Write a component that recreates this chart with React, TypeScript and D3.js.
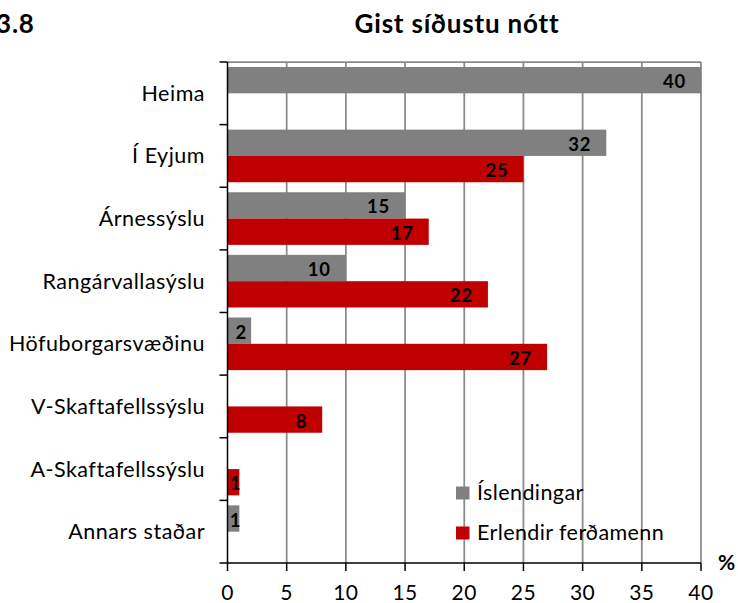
import React from "react";
import * as d3 from "d3";

// Chart data
const categories = [
  "Heima",
  "Í Eyjum",
  "Árnessýslu",
  "Rangárvallasýslu",
  "Höfuborgarsvæðinu",
  "V-Skaftafellssýslu",
  "A-Skaftafellssýslu",
  "Annars staðar",
];
const seriesNames = ["Íslendingar", "Erlendir ferðamenn"];
const islendingar = [40, 32, 15, 10, 2, 0, 0, 1];
const erlendir = [0, 25, 17, 22, 27, 8, 1, 0];
const xTicks = [0, 5, 10, 15, 20, 25, 30, 35, 40];

const colors = ["#808080", "#C00000"];
const font = "Lato, 'Noto Sans', sans-serif";

const App = () => {
  const width = 738;
  const height = 603;
  const margin = { top: 62, right: 37, bottom: 40, left: 227.5 };

  const x = d3.scaleLinear()
    .domain([0, 40])
    .range([margin.left, width - margin.right]);

  const y = d3.scaleBand()
    .domain(categories)
    .range([margin.top, height - margin.bottom])
    .paddingInner(0)
    .paddingOuter(0);

  const inner = d3.scaleBand()
    .domain(seriesNames)
    .range([0, y.bandwidth()])
    .paddingInner(0)
    .paddingOuter(0.19);

  const series = [islendingar, erlendir];
  const bottom = height - margin.bottom;
  const boundaries = categories.map(c => y(c)!).concat([bottom]);

  return (
    <div style={{ position: "absolute", left: 0, top: 0 }}>
      <svg width={width} height={height} style={{ display: "block", background: "#fff" }}>
        {/* titles */}
        <text x={-4} y={33} fontFamily={font} fontWeight="bold" fontSize={26} letterSpacing={0.8}>3.8</text>
        <text x={457} y={33} textAnchor="middle" fontFamily={font} fontWeight="bold" fontSize={26} letterSpacing={0.8}>
          Gist síðustu nótt
        </text>

        {/* gridlines */}
        <line x1={margin.left} x2={x(40)} y1={margin.top} y2={margin.top} stroke="#8a8a8a" strokeWidth={1.75} />
        {xTicks.filter(t => t > 0).map(t => (
          <line key={t} x1={x(t)} x2={x(t)} y1={margin.top} y2={bottom} stroke="#8a8a8a" strokeWidth={1.75} />
        ))}

        {/* bars */}
        {categories.map((c, i) => (
          <g key={c}>
            {series.map((s, j) => {
              const v = s[i];
              if (!v) return null;
              const by = y(c)! + inner(seriesNames[j])!;
              const bw = x(v) - x(0);
              const small = bw < 40;
              return (
                <g key={j}>
                  <rect x={x(0)} y={by} width={bw} height={inner.bandwidth()} fill={colors[j]} />
                  <text
                    x={small ? x(0) + bw / 2 + 2 : x(v) - 15}
                    y={by + inner.bandwidth() / 2 + 8}
                    textAnchor={small ? "middle" : "end"}
                    fontFamily={font}
                    fontWeight="bold"
                    fontSize={18.5}
                    letterSpacing={0.8}
                    fill="#000"
                  >
                    {v}
                  </text>
                </g>
              );
            })}
          </g>
        ))}

        {/* y axis */}
        <line x1={margin.left} x2={margin.left} y1={margin.top} y2={bottom} stroke="#000" strokeWidth={1.5} />
        {boundaries.map((b, i) => (
          <line key={i} x1={margin.left - 8} x2={margin.left} y1={b} y2={b} stroke="#000" strokeWidth={1.5} />
        ))}
        {categories.map(c => (
          <text
            key={c}
            x={205}
            y={y(c)! + y.bandwidth() / 2 + 7.5}
            textAnchor="end"
            fontFamily={font}
            fontSize={21.5}
            letterSpacing={0.5}
            fill="#000"
          >
            {c}
          </text>
        ))}

        {/* x axis */}
        <line x1={margin.left} x2={x(40)} y1={bottom} y2={bottom} stroke="#000" strokeWidth={1.5} />
        {xTicks.map(t => (
          <g key={t}>
            <line x1={x(t)} x2={x(t)} y1={bottom} y2={bottom + 8} stroke="#000" strokeWidth={1.5} />
            <text x={x(t)} y={600} textAnchor="middle" fontFamily={font} fontSize={21} letterSpacing={0.5} fill="#000">{t}</text>
          </g>
        ))}
        <text x={718} y={570} fontFamily={font} fontWeight="bold" fontSize={21} fill="#000">%</text>

        {/* legend */}
        {seriesNames.map((n, i) => (
          <g key={n} transform={`translate(456,${486.5 + i * 40})`}>
            <rect x={0} y={0} width={13.5} height={13} fill={colors[i]} />
            <text x={21} y={13.5} fontFamily={font} fontSize={21.5} letterSpacing={0.4} fill="#000">{n}</text>
          </g>
        ))}
      </svg>
    </div>
  );
};

export default App;
